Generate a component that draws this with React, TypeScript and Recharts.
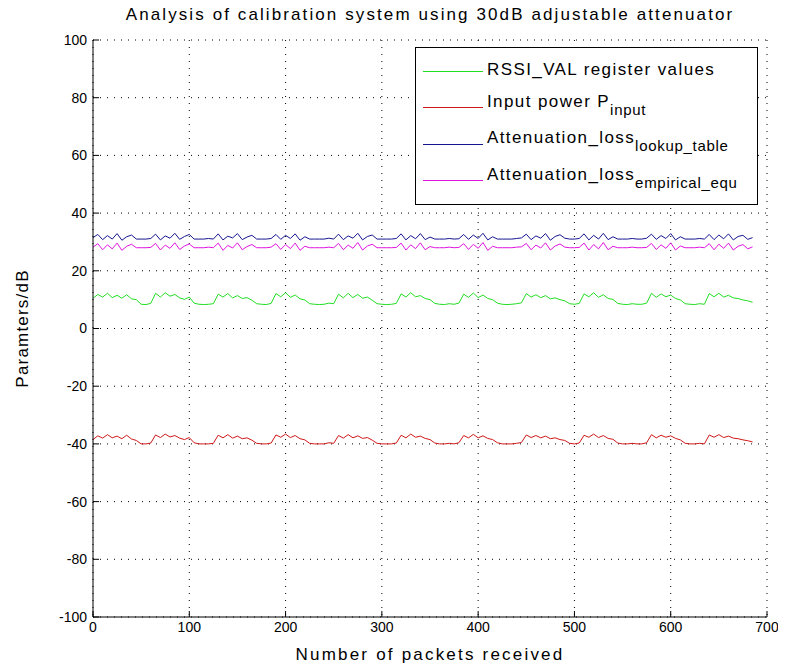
import React from 'react';
import { LineChart, Line, XAxis, YAxis, CartesianGrid, Legend } from 'recharts';

// one reading every 5 packets (0, 5, 10 ... 685)
const rssiVal = [
  10.5, 11.8, 10.9, 12.2, 10.7, 11.5, 10.5, 11.7, 10.3, 10, 8.4, 8.3, 8.7, 12.2, 10.9, 12.4, 11.2, 11.8, 10.6, 10.1,
  10.9, 8.8, 8.4, 8.3, 8.4, 8.6, 11.9, 10.9, 12.1, 10.6, 11.4, 10.4, 10.7, 9.8, 8.6, 8.4, 8.3, 8.7, 12.1, 11,
  12.4, 10.8, 11.6, 10.3, 9.9, 8.6, 8.4, 8.3, 8.4, 8.8, 8.6, 11.9, 10.6, 12.2, 10.7, 11.8, 10.5, 10.9, 9.8, 8.6,
  8.4, 8.3, 8.4, 8.7, 12, 10.9, 12.4, 11, 11.4, 10.4, 10, 8.7, 8.4, 8.3, 8.6, 8.4, 8.8, 11.9, 10.8, 12.3,
  10.7, 11.6, 10.4, 10, 8.8, 8.4, 8.3, 8.4, 8.6, 8.9, 12.1, 10.9, 11.7, 10.7, 11.4, 10.3, 10.6, 10, 9.6, 8.6,
  8.4, 8.7, 12, 11, 12.4, 10.8, 11.7, 10.4, 10.1, 8.7, 8.4, 8.3, 8.6, 8.4, 8.4, 8.8, 12.2, 10.8, 12, 11,
  11.6, 10.4, 9.9, 8.6, 8.4, 8.3, 8.6, 8.4, 12.1, 11, 12.2, 10.9, 11.5, 10.6, 10.4, 9.9, 9.6, 9.1,
];

const inputPower = [
  -38.5, -37.2, -38, -36.8, -37.9, -37.3, -38.2, -37, -38.3, -38.8, -40, -40, -39.7, -36.9, -37.8, -36.6, -37.6, -37.1, -38, -38.5,
  -37.8, -39.6, -40, -40, -40, -39.8, -37, -37.9, -36.8, -38, -37.3, -38.2, -37.9, -38.7, -39.8, -40, -40, -39.7, -36.9, -37.7,
  -36.6, -37.8, -37.1, -38.2, -38.6, -39.8, -40, -40, -40, -39.6, -39.8, -37.1, -38, -36.8, -37.9, -37.2, -38.1, -37.8, -38.7, -39.8,
  -40, -40, -40, -39.7, -37, -37.9, -36.6, -37.7, -37.3, -38.1, -38.5, -39.7, -40, -40, -39.8, -40, -39.6, -37.1, -37.9, -36.7,
  -37.9, -37.2, -38.1, -38.5, -39.6, -40, -40, -40, -39.8, -39.5, -36.9, -37.8, -37.1, -37.9, -37.3, -38.2, -37.9, -38.5, -38.8, -39.8,
  -40, -39.7, -37, -37.7, -36.6, -37.8, -37.1, -38.1, -38.4, -39.7, -40, -40, -39.8, -40, -40, -39.6, -36.8, -37.9, -37, -37.7,
  -37.2, -38.1, -38.6, -39.8, -40, -40, -39.8, -40, -36.9, -37.7, -36.8, -37.8, -37.3, -38, -38.2, -38.6, -38.9, -39.3,
];

const lossLookup = [
  31.5, 32.6, 30.8, 32.2, 31, 32.9, 30.6, 31.8, 32.4, 31, 31, 31, 31.2, 32.7, 30.7, 32.1, 31.3, 33, 30.9, 31.9,
  32.6, 31, 31, 31, 31.2, 31, 32.8, 30.7, 32, 31.4, 32.9, 30.8, 31.7, 32.3, 31, 31, 31, 31.2, 32.6, 30.9,
  32.3, 31.2, 32.8, 30.6, 31.8, 31, 31, 31, 31, 31.3, 31, 32.7, 30.8, 32.1, 31.3, 33, 30.7, 31.9, 32.4, 31,
  31, 31, 31, 31.2, 32.8, 30.7, 32.2, 31.1, 32.9, 30.8, 31.7, 31, 31, 31, 31.2, 31, 31.1, 32.6, 30.9, 32.4,
  31.2, 33, 30.7, 31.8, 31, 31, 31, 31, 31.2, 31.4, 32.7, 30.8, 32.1, 31.3, 32.9, 30.6, 31.9, 32.5, 31.3, 31,
  31, 31.2, 32.8, 30.7, 32.3, 31, 33, 30.8, 31.8, 31, 31, 31, 31.2, 31, 31, 31.3, 32.7, 30.9, 32.2, 31.2,
  32.9, 30.7, 31.8, 31, 31, 31, 31.2, 31, 32.6, 30.8, 32.4, 31.1, 32.8, 30.7, 31.9, 32.3, 30.9, 31.5,
];

const lossEmpirical = [
  28.2, 29.4, 27.3, 29, 27.6, 29.6, 27.1, 28.5, 29.2, 28, 28, 28, 28.1, 29.5, 27.2, 28.9, 27.8, 29.7, 27.4, 28.6,
  29.3, 28, 28, 28, 28.2, 28, 29.6, 27.1, 28.8, 27.9, 29.7, 27.3, 28.4, 29.1, 28, 28, 28, 28.2, 29.4, 27.4,
  29.1, 27.7, 29.6, 27.1, 28.5, 28, 28, 28, 28, 28.2, 28, 29.5, 27.3, 28.9, 27.8, 29.8, 27.2, 28.6, 29.2, 28,
  28, 28, 28, 28.1, 29.6, 27.2, 29, 27.7, 29.7, 27.3, 28.4, 28, 28, 28, 28.2, 28, 28.1, 29.4, 27.4, 29.2,
  27.8, 29.8, 27.1, 28.5, 28, 28, 28, 28, 28.2, 28.3, 29.5, 27.3, 28.9, 27.9, 29.7, 27.2, 28.6, 29.3, 28.2, 28,
  28, 28.1, 29.6, 27.2, 29.1, 27.6, 29.8, 27.3, 28.5, 28, 28, 28, 28.2, 28, 28, 28.1, 29.5, 27.4, 29, 27.8,
  29.7, 27.2, 28.6, 28, 28, 28, 28.2, 28, 29.4, 27.3, 29.2, 27.8, 29.6, 27.2, 28.5, 29.1, 27.6, 28.3,
];

const xTicks = [0, 100, 200, 300, 400, 500, 600, 700];
const yTicks = [-100, -80, -60, -40, -20, 0, 20, 40, 60, 80, 100];

const data = rssiVal.map((v, i) => ({
  packet: i * 5,
  rssi: v,
  input: inputPower[i],
  lookup: lossLookup[i],
  empirical: lossEmpirical[i],
}));

const FONT = '"Liberation Sans", Arial, sans-serif';
const TITLE = 'Analysis of calibration system using 30dB adjustable attenuator';

const legendRows = [
  { color: '#22dd22', main: 'RSSI_VAL register values', sub: '' },
  { color: '#d01818', main: 'Input power P', sub: 'input' },
  { color: '#16168f', main: 'Attenuation_loss', sub: 'lookup_table' },
  { color: '#e014e0', main: 'Attenuation_loss', sub: 'empirical_equ' },
];

function MatlabLegend() {
  return (
    <div
      style={{
        border: '1px solid #000',
        background: '#fff',
        width: 343,
        height: 158,
        boxSizing: 'border-box',
        padding: '5px 0 0 7px',
        fontFamily: FONT,
        fontSize: 17,
        letterSpacing: 1.4,
        color: '#000',
        textAlign: 'left',
        whiteSpace: 'nowrap',
      }}
    >
      {legendRows.map((r) => (
        <div key={r.main + r.sub} style={{ display: 'flex', alignItems: 'center', height: 36.5 }}>
          <div style={{ width: 60, height: 1, background: r.color, marginRight: 4, flexShrink: 0 }} />
          <span style={{ lineHeight: '18px', position: 'relative', top: r.sub ? -6 : -1 }}>
            {r.main}
            {r.sub && (
              <span style={{ fontSize: 15, letterSpacing: 0.7, position: 'relative', top: 8 }}>{r.sub}</span>
            )}
          </span>
        </div>
      ))}
    </div>
  );
}

export default function App() {
  return (
    <div style={{ position: 'relative', width: 778, height: 662 }}>
      <LineChart
        width={778}
        height={662}
        data={data}
        margin={{ top: 32, right: 19, bottom: 8, left: 25 }}
        style={{ fontFamily: FONT }}
      >
        <CartesianGrid stroke="#000" strokeDasharray="1 6" xAxisId={0} yAxisId={0} />
        <XAxis
          dataKey="packet"
          type="number"
          domain={[0, 700]}
          ticks={xTicks}
          height={45}
          tickSize={-6}
          tickMargin={11}
          stroke="#000"
          tick={{ fill: '#000', fontSize: 14 }}
          label={{
            value: 'Number of packets received',
            position: 'insideBottom',
            offset: 2,
            fill: '#000',
            fontSize: 17,
            style: { letterSpacing: 2.2 },
          }}
        />
        <XAxis
          xAxisId="top"
          orientation="top"
          dataKey="packet"
          type="number"
          domain={[0, 700]}
          ticks={xTicks}
          height={0}
          tickSize={-6}
          tick={false}
          stroke="#000"
        />
        <YAxis
          type="number"
          domain={[-100, 100]}
          ticks={yTicks}
          width={60}
          tickSize={-6}
          tickMargin={12}
          stroke="#000"
          tick={{ fill: '#000', fontSize: 14 }}
          label={{
            value: 'Paramters/dB',
            angle: -90,
            position: 'insideLeft',
            offset: -11,
            fill: '#000',
            fontSize: 17,
            style: { textAnchor: 'middle', letterSpacing: 1.2 },
          }}
        />
        <YAxis
          yAxisId="right"
          orientation="right"
          type="number"
          domain={[-100, 100]}
          ticks={yTicks}
          width={0}
          tickSize={-6}
          tick={false}
          stroke="#000"
        />
        <Legend
          layout="horizontal"
          verticalAlign="middle"
          align="center"
          content={() => <MatlabLegend />}
          wrapperStyle={{ position: 'absolute', left: 407, top: 39, width: 343, height: 158 }}
        />
        <Line dataKey="rssi" stroke="#22dd22" strokeWidth={1} dot={false} isAnimationActive={false} />
        <Line dataKey="input" stroke="#d01818" strokeWidth={1} dot={false} isAnimationActive={false} />
        <Line dataKey="lookup" stroke="#16168f" strokeWidth={1} dot={false} isAnimationActive={false} />
        <Line dataKey="empirical" stroke="#e014e0" strokeWidth={1} dot={false} isAnimationActive={false} />
      </LineChart>
      <div
        style={{
          position: 'absolute',
          left: 85,
          width: 674,
          top: -2,
          textAlign: 'center',
          fontFamily: FONT,
          fontSize: 17,
          letterSpacing: 2.1,
          lineHeight: '18px',
          whiteSpace: 'nowrap',
          color: '#000',
        }}
      >
        {TITLE}
      </div>
    </div>
  );
}
